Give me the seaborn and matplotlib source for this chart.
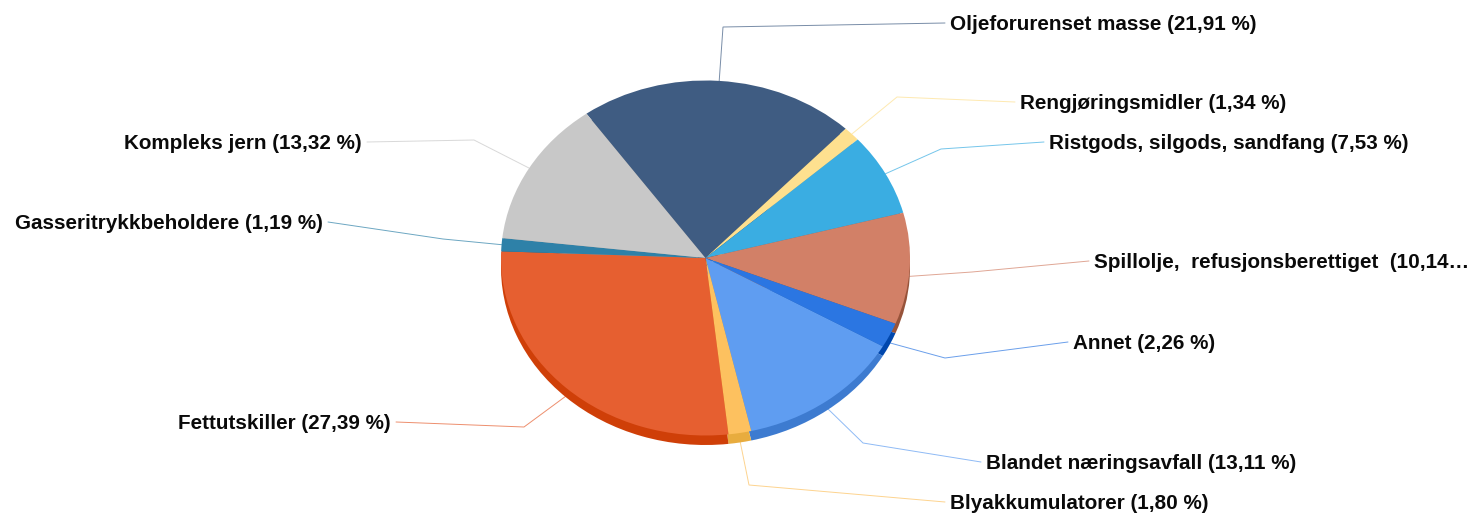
import numpy as np
import matplotlib
matplotlib.use("Agg")
import matplotlib.pyplot as plt
import seaborn as sns

categories = ["Oljeforurenset masse", "Rengjøringsmidler", "Ristgods, silgods, sandfang",
              "Spillolje, refusjonsberettiget", "Annet", "Blandet næringsavfall",
              "Blyakkumulatorer", "Fettutskiller", "Gasseritrykkbeholdere", "Kompleks jern"]
values = [21.91, 1.34, 7.53, 10.14, 2.26, 13.11, 1.80, 27.39, 1.19, 13.32]
label_texts = ["Oljeforurenset masse (21,91 %)", "Rengjøringsmidler (1,34 %)",
               "Ristgods, silgods, sandfang (7,53 %)", "Spillolje,  refusjonsberettiget  (10,14…",
               "Annet (2,26 %)", "Blandet næringsavfall (13,11 %)", "Blyakkumulatorer (1,80 %)",
               "Fettutskiller (27,39 %)", "Gasseritrykkbeholdere (1,19 %)", "Kompleks jern (13,32 %)"]
top_colors = ["#3f5c82", "#fee08f", "#3aade2", "#d28067", "#2b76e2",
              "#5f9df1", "#fdc15f", "#e65f30", "#2e81a8", "#c8c8c8"]
side_colors = ["#2f4562", "#d8b860", "#2a85b0", "#97533a", "#0047ad",
               "#3d7bd0", "#e8ac3e", "#cf3f08", "#1f5f80", "#9a9a9a"]

# layout (pixels)
W, H = 1482, 516
CX, CY, RX, RY, DEPTH = 705.5, 258, 204.5, 177.5, 9.5
START = 125.6
elbows = [(723, 27), (897, 97), (941, 149), (972, 272), (945, 358),
          (863, 443), (749, 485), (524, 427), (443, 239), (474, 140)]
text_pos = [(950, 24.5, "left"), (1020, 103.5, "left"), (1049, 143.5, "left"), (1094, 262.5, "left"),
            (1073, 343.5, "left"), (986, 463.5, "left"), (950, 503.5, "left"),
            (391, 423.5, "right"), (323, 223.5, "right"), (362, 143.5, "right")]

sns.set_theme(style="white")
plt.rcParams["font.family"] = ["Liberation Sans", "DejaVu Sans"]
palette_top = sns.color_palette(top_colors)
palette_side = sns.color_palette(side_colors)

fig = plt.figure(figsize=(W / 100, H / 100), dpi=100, facecolor="white")

# overlay in pixel coordinates, for leader lines and labels
ov = fig.add_axes([0, 0, 1, 1], zorder=1)
ov.set_xlim(0, W)
ov.set_ylim(H, 0)
ov.axis("off")


def pie_axes(dy, colors, z):
    pad = 1.05
    w, h = 2 * RX * pad, 2 * RY * pad
    ax = fig.add_axes([(CX - w / 2) / W, 1 - (CY + dy + h / 2) / H, w / W, h / H], zorder=z)
    ax.pie(values, colors=colors, startangle=START, counterclock=False, radius=1,
           wedgeprops=dict(linewidth=0))
    ax.set_aspect("auto")
    ax.set_xlim(-pad, pad)
    ax.set_ylim(-pad, pad)
    ax.patch.set_alpha(0)
    return ax


pie_axes(DEPTH, palette_side, 2)
pie_axes(0, palette_top, 3)

cum = np.cumsum(values)
total = cum[-1]
for i, txt in enumerate(label_texts):
    mid = (cum[i] - values[i] / 2) / total * 360
    ang = np.radians(START - mid)
    ax0, ay0 = CX + RX * np.cos(ang), CY - RY * np.sin(ang)
    if np.sin(ang) < 0:
        ay0 += DEPTH * 0.8
    tx, ty, ha = text_pos[i]
    ex = tx - 5 if ha == "left" else tx + 5
    ov.plot([ax0, elbows[i][0], ex], [ay0, elbows[i][1], ty - 1.5], color=palette_top[i],
            lw=0.7, alpha=0.7, solid_joinstyle="miter")
    ov.text(tx, ty, txt, ha=ha, va="center", fontsize=14.88, fontweight="bold", color="#0a0a0a")

fig.savefig("out.png", dpi=100, facecolor="white")
